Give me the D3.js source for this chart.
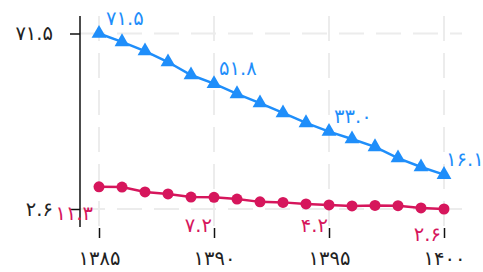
<!DOCTYPE html>
<html>
<head>
<meta charset="utf-8">
<script src="https://cdn.jsdelivr.net/npm/d3@7/dist/d3.min.js"></script>
<style>
  html, body { margin: 0; padding: 0; background: #fff; }
  svg { display: block; font-family: "DejaVu Sans", sans-serif; }
</style>
</head>
<body>
<div id="chart"></div>
<script>
// data
var years = [1385, 1386, 1387, 1388, 1389, 1390, 1391, 1392, 1393, 1394, 1395, 1396, 1397, 1398, 1399, 1400];
var blueValues = [71.5, 68.2, 64.6, 60.3, 55.2, 51.8, 47.8, 44.2, 40.3, 36.4, 33.0, 30.1, 27.0, 22.6, 19.1, 16.1];
var redValues = [11.3, 11.2, 9.3, 8.5, 7.3, 7.2, 6.5, 5.4, 5.2, 4.6, 4.2, 3.8, 4.0, 3.9, 3.0, 2.6];
var xTicks = [1385, 1390, 1395, 1400];
var yTicks = [2.6, 71.5];
var labelIdx = [0, 5, 10, 15];

var width = 483, height = 272;
var plotLeft = 80, plotRight = 462, plotTop = 16, plotBottom = 227;
var blue = "#1f8efa", red = "#d6165c";
var fontSize = "19.5px";

// western digits -> persian digits
function fa(s) {
  return String(s).replace(/[0-9]/g, function(d) { return "۰۱۲۳۴۵۶۷۸۹"[+d]; });
}

var svg = d3.select("#chart").append("svg")
  .attr("width", width).attr("height", height);

var x = d3.scaleLinear().domain([1385, 1400]).range([plotLeft + 19, plotRight - 18]);
var y = d3.scaleLinear().domain([2.6, 71.5]).range([plotBottom - 18, plotTop + 17.5]);

// grid
var grid = svg.append("g").attr("stroke", "#ececec").attr("stroke-width", 2)
  .attr("stroke-dasharray", "25,12");
grid.selectAll(".gx").data(xTicks).enter().append("line")
  .attr("x1", function(d) { return x(d); }).attr("x2", function(d) { return x(d); })
  .attr("y1", plotTop).attr("y2", plotBottom);
grid.selectAll(".gy").data(yTicks).enter().append("line")
  .attr("x1", plotLeft).attr("x2", plotRight)
  .attr("y1", function(d) { return y(d); }).attr("y2", function(d) { return y(d); });

// y axis
var yAxis = svg.append("g").attr("transform", "translate(" + plotLeft + ",0)")
  .call(d3.axisLeft(y).tickValues(yTicks).tickSize(10).tickPadding(17).tickFormat(function(d) { return fa(d); }));
yAxis.select(".domain").remove();
yAxis.append("line").attr("x1", 0).attr("x2", 0).attr("y1", plotTop).attr("y2", plotBottom)
  .attr("stroke", "#111").attr("stroke-width", 1.5);
yAxis.selectAll(".tick line").attr("stroke", "#111").attr("stroke-width", 1.5);
yAxis.selectAll(".tick text").attr("fill", "#222").style("font-size", fontSize)
  .style("font-family", "DejaVu Sans, sans-serif");

// x axis (ticks only)
var xAxis = svg.append("g").attr("transform", "translate(0," + (plotBottom + 1) + ")")
  .call(d3.axisBottom(x).tickValues(xTicks).tickSize(10).tickPadding(13).tickFormat(function(d) { return fa(d); }));
xAxis.select(".domain").remove();
xAxis.selectAll(".tick line").attr("stroke", "#111").attr("stroke-width", 1.5);
xAxis.selectAll(".tick text").attr("fill", "#222").style("font-size", fontSize)
  .style("font-family", "DejaVu Sans, sans-serif");

// lines
function drawLine(vals, color) {
  var line = d3.line()
    .x(function(d, i) { return x(years[i]); })
    .y(function(d) { return y(d); });
  svg.append("path").datum(vals)
    .attr("fill", "none").attr("stroke", color).attr("stroke-width", 2.5)
    .attr("d", line);
}
drawLine(blueValues, blue);
drawLine(redValues, red);

// markers
svg.selectAll(".tri").data(blueValues).enter().append("path")
  .attr("d", d3.symbol().type(d3.symbolTriangle).size(95))
  .attr("transform", function(d, i) { return "translate(" + x(years[i]) + "," + y(d) + ")"; })
  .attr("fill", blue);
svg.selectAll(".dot").data(redValues).enter().append("circle")
  .attr("cx", function(d, i) { return x(years[i]); })
  .attr("cy", function(d) { return y(d); })
  .attr("r", 5.5).attr("fill", red);

// value labels
var blueDx = [7, 5, 5, 2];
svg.selectAll(".blab").data(labelIdx).enter().append("text")
  .attr("x", function(i, k) { return x(years[i]) + blueDx[k]; })
  .attr("y", function(i) { return y(blueValues[i]) - 9; })
  .attr("fill", blue).style("font-size", fontSize)
  .text(function(i) { return fa(blueValues[i].toFixed(1)); });

var redNudge = [[-6, 33], [-2, 35], [-1, 27], [-3, 32]];
svg.selectAll(".rlab").data(labelIdx).enter().append("text")
  .attr("x", function(i, k) { return x(years[i]) + redNudge[k][0]; })
  .attr("y", function(i, k) { return y(redValues[i]) + redNudge[k][1]; })
  .attr("text-anchor", "end")
  .attr("fill", red).style("font-size", fontSize)
  .text(function(i) { return fa(redValues[i].toFixed(1)); });
</script>
</body>
</html>
